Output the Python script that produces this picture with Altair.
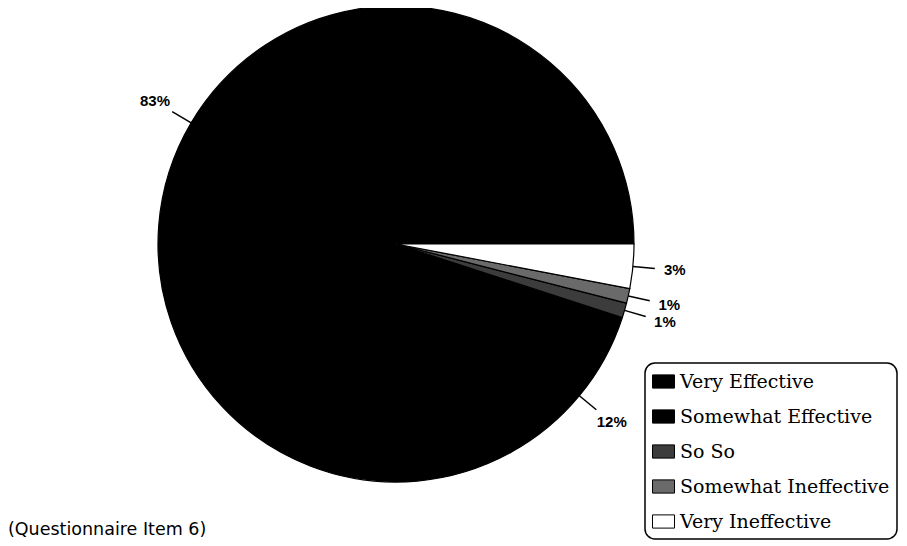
import altair as alt
import pandas as pd

# ---- data ----
categories = ["Very Effective", "Somewhat Effective", "So So",
              "Somewhat Ineffective", "Very Ineffective"]
percents = [83, 12, 1, 1, 3]
pct_labels = ["83%", "12%", "1%", "1%", "3%"]
# clockwise drawing order starting at 3 o'clock
draw_order = [5, 4, 3, 2, 1]
colors = ["#000000", "#000000", "#3c3c3c", "#6a6a6a", "#ffffff"]
note_text = "(Questionnaire Item 6)"

df = pd.DataFrame({"cat": categories, "pct": percents,
                   "lab": pct_labels, "ord": draw_order})

CX, CY, R = 388, 236, 238
R_LINE = 260
R_TEXT = 280

base = alt.Chart(df).transform_window(
    cum="sum(pct)", sort=[alt.SortField("ord")], frame=[None, 0]
).transform_calculate(
    t0="PI/2 + 2*PI*(datum.cum - datum.pct)/100",
    t1="PI/2 + 2*PI*datum.cum/100",
).transform_calculate(
    mid="(datum.t0 + datum.t1)/2"
)

pie = base.mark_arc(radius=R, stroke="black", strokeWidth=1.2).encode(
    theta=alt.Theta("t0:Q", scale=None),
    theta2="t1:Q",
    x=alt.value(CX),
    y=alt.value(CY),
    color=alt.Color(
        "cat:N",
        scale=alt.Scale(domain=categories, range=colors),
        legend=alt.Legend(
            title=None, orient="none", legendX=637, legendY=355,
            symbolType="M-1,-0.6H1V0.6H-1Z", symbolSize=484,
            symbolStrokeColor="black", symbolStrokeWidth=1,
            labelFont="DejaVu Serif", labelFontSize=19, labelColor="black",
            labelLimit=400, labelOffset=5, rowPadding=13,
            padding=7, cornerRadius=10, strokeColor="black",
        ),
    ),
)

lines = base.transform_calculate(
    lx1=f"{CX} + {R}*sin(datum.mid)",
    ly1=f"{CY} - {R}*cos(datum.mid)",
    lx2=f"{CX} + {R_LINE}*sin(datum.mid)",
    ly2=f"{CY} - {R_LINE}*cos(datum.mid)",
).mark_rule(color="black", strokeWidth=1.5).encode(
    x=alt.X("lx1:Q", scale=None),
    y=alt.Y("ly1:Q", scale=None),
    x2="lx2:Q",
    y2="ly2:Q",
)

labels = base.mark_text(
    font="Liberation Sans", fontWeight="bold", fontSize=15, color="black",
    align="center", baseline="middle",
).encode(
    theta=alt.Theta("mid:Q", scale=None),
    radius=alt.value(R_TEXT),
    x=alt.value(CX),
    y=alt.value(CY),
    text="lab:N",
)

note = alt.Chart(pd.DataFrame({"t": [note_text]})).mark_text(
    font="DejaVu Sans", fontSize=17.5, color="black", align="left",
    baseline="middle",
).encode(x=alt.value(0), y=alt.value(522), text="t:N")

chart = alt.layer(pie, lines, labels, note).properties(
    width=891, height=534, padding=0, autosize="none"
).configure_view(stroke=None).configure_legend(strokeWidth=1.5)

chart.save("out.html", embed_options={"renderer": "svg", "actions": False})
